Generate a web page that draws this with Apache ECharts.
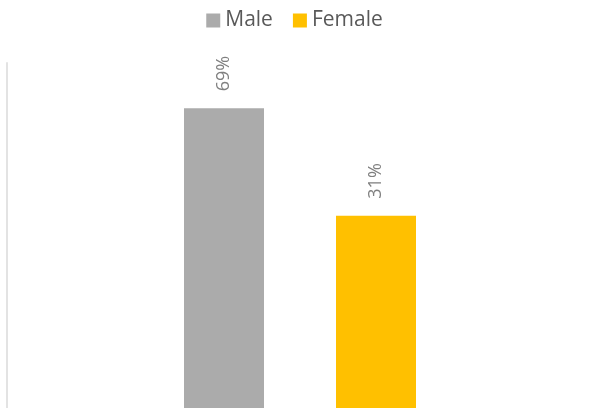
<!DOCTYPE html>
<html>
<head>
<meta charset="utf-8">
<script src="https://cdn.jsdelivr.net/npm/echarts@6/dist/echarts.min.js"></script>
<style>html,body{margin:0;padding:0;background:#fff}#c{width:589px;height:408px}</style>
</head>
<body>
<div id="c"></div>
<script>
const categories = ['Male', 'Female'];
const maleValues = [0.69];
const femaleValues = [0.31];
const colors = { Male: '#ababab', Female: '#ffc000' };

const Y_MIN = -0.37;
const Y_MAX = 0.85;
const BAR_RATIO = 80 / 152;

function renderBar(params, api) {
  const xi = api.value(0);
  const v = api.value(1);
  const top = api.coord([xi, v]);
  const base = api.coord([xi, Y_MIN]);
  const w = api.size([1, 0])[0] * BAR_RATIO;
  return {
    type: 'group',
    children: [
      {
        type: 'rect',
        shape: { x: top[0] - w / 2, y: top[1], width: w, height: base[1] - top[1] },
        style: api.style()
      },
      {
        type: 'text',
        x: top[0],
        y: top[1] - 17,
        rotation: Math.PI / 2,
        style: {
          text: Math.round(v * 100) + '%',
          fill: '#808080',
          font: '18px "Open Sans"',
          align: 'left',
          verticalAlign: 'middle'
        }
      }
    ]
  };
}

const chart = echarts.init(document.getElementById('c'), null, { renderer: 'canvas' });
chart.setOption({
  animation: false,
  backgroundColor: '#ffffff',
  legend: {
    top: 5,
    left: 'center',
    itemWidth: 14,
    itemHeight: 14,
    itemGap: 20,
    textStyle: { fontFamily: 'Open Sans', fontSize: 21, color: '#595959' },
    data: [{ name: 'Male', icon: 'rect' }, { name: 'Female', icon: 'rect' }]
  },
  grid: { left: 148, right: 137, top: 63, bottom: 0, containLabel: false },
  xAxis: {
    type: 'category',
    data: categories,
    axisLine: { show: false },
    axisTick: { show: false },
    axisLabel: { show: false },
    splitLine: { show: false }
  },
  yAxis: {
    type: 'value',
    min: Y_MIN,
    max: Y_MAX,
    offset: 141,
    axisLine: { show: true, lineStyle: { color: '#e3e3e3', width: 2 } },
    axisTick: { show: false },
    axisLabel: { show: false },
    splitLine: { show: false }
  },
  series: [
    {
      name: 'Male',
      type: 'custom',
      itemStyle: { color: colors.Male },
      renderItem: renderBar,
      data: maleValues.map((v, i) => [i, v])
    },
    {
      name: 'Female',
      type: 'custom',
      itemStyle: { color: colors.Female },
      renderItem: renderBar,
      data: femaleValues.map((v, i) => [i + 1, v])
    }
  ]
});
</script>
</body>
</html>
